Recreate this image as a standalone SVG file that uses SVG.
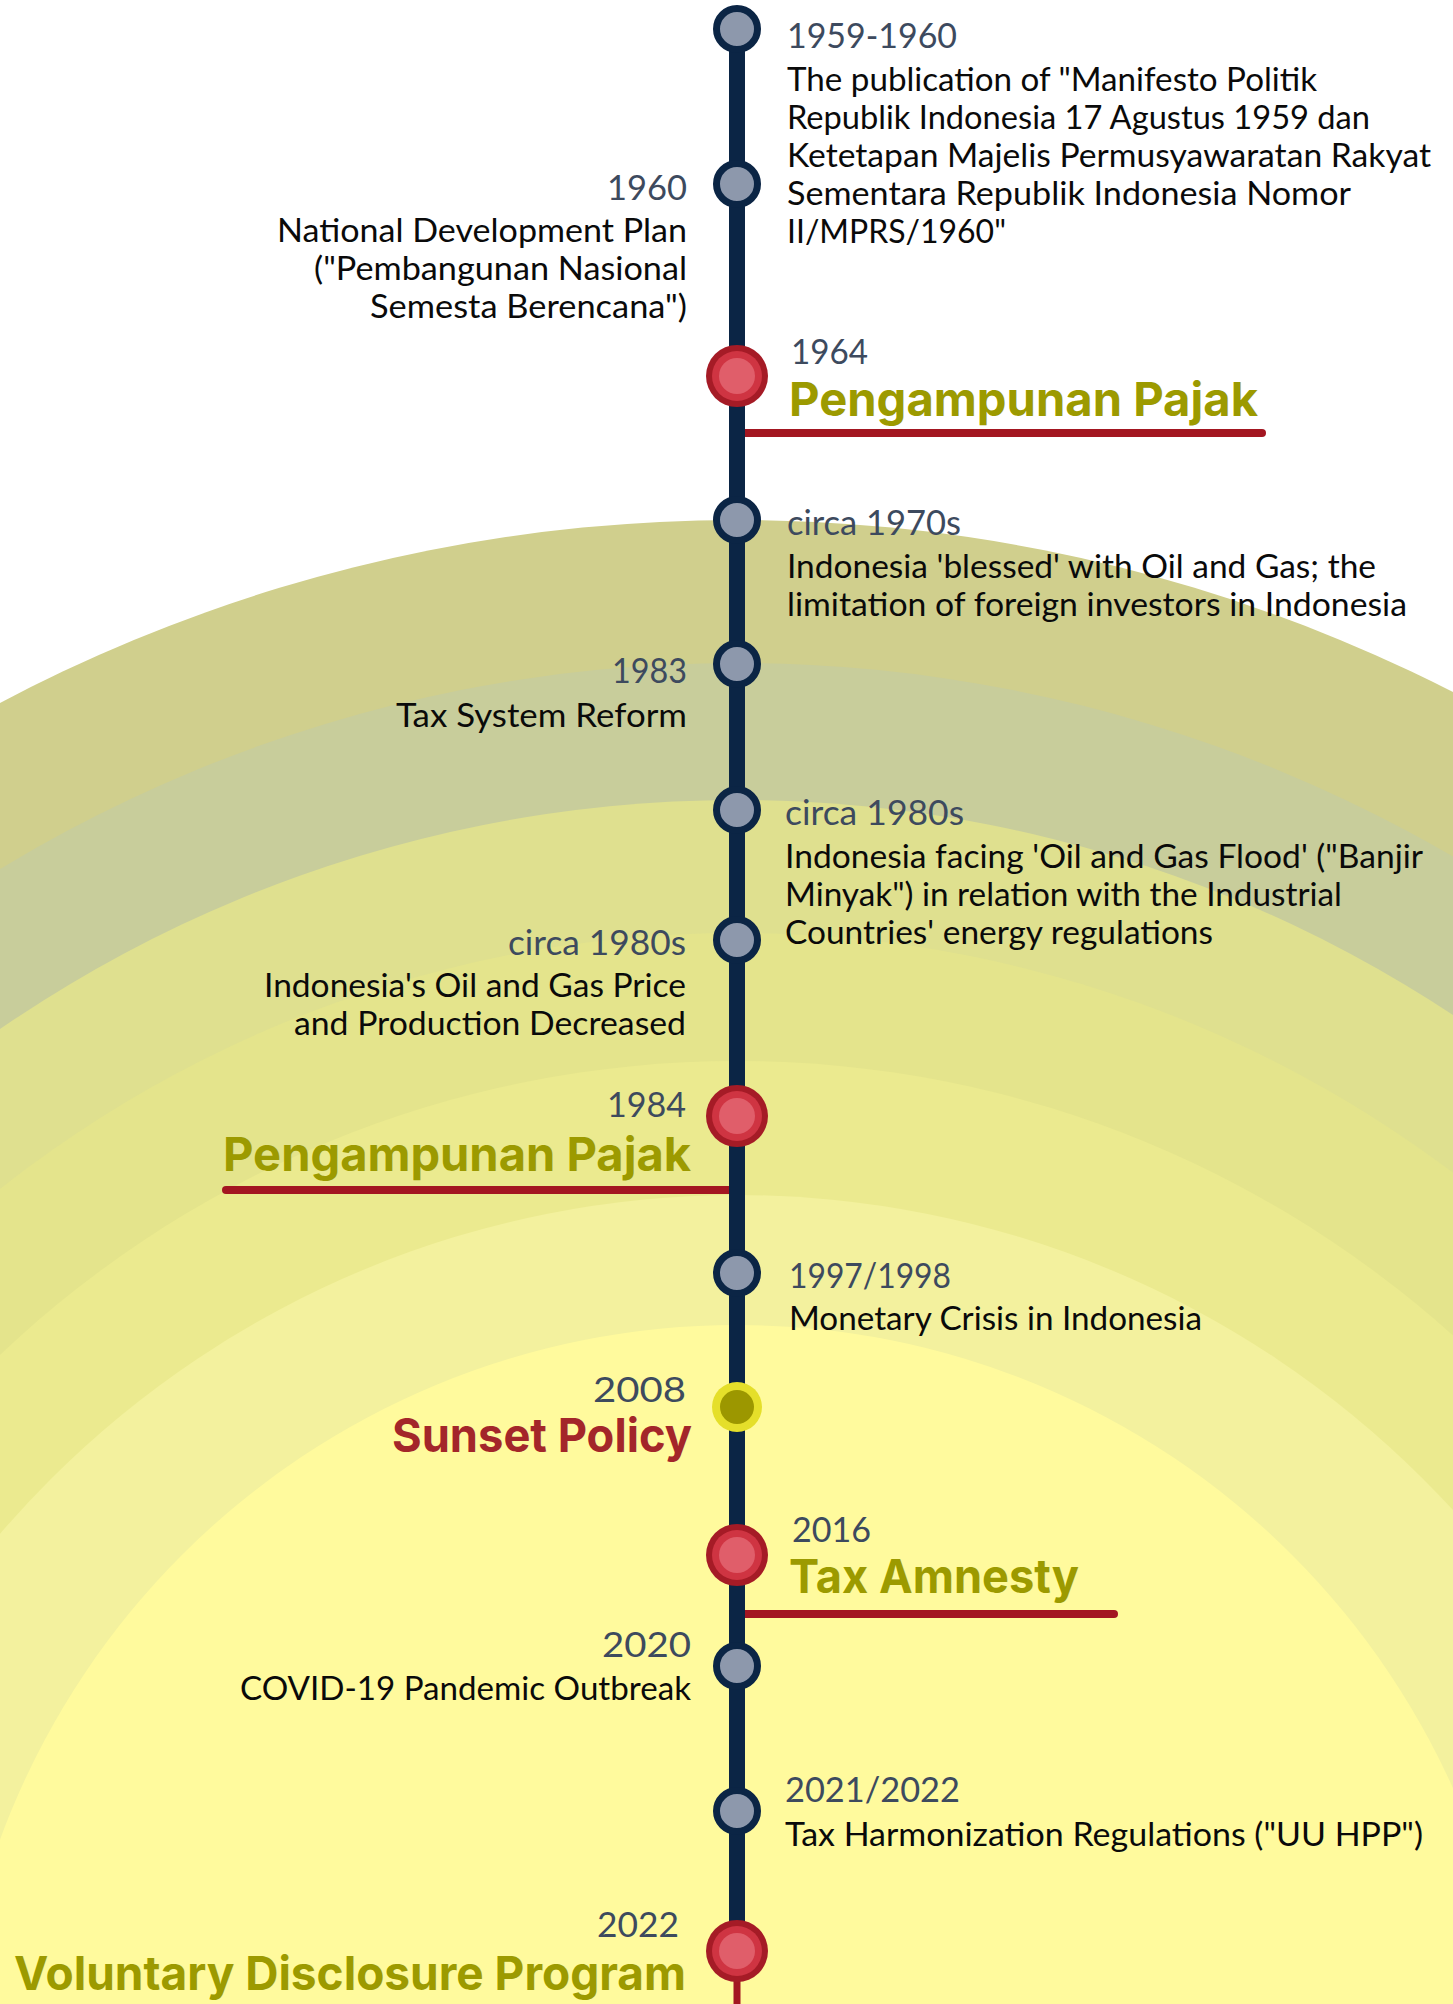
<svg xmlns="http://www.w3.org/2000/svg" width="1453" height="2004" viewBox="0 0 1453 2004">
<style>
.date{font-family:Lato,"Noto Sans",sans-serif;font-size:34.5px;fill:#3d4a5e}
.body{font-family:Lato,"Noto Sans",sans-serif;font-size:33.5px;fill:#0a0a0a}
.head{font-family:Inter,"Noto Sans",sans-serif;font-weight:700;font-size:47px;fill:#9c9a00}
.red{fill:#a3262a}
.end{text-anchor:end}
.ul{stroke:#a31621;stroke-width:8;stroke-linecap:round;fill:none}
</style>
<defs>
<g id="gray"><circle r="20.5" fill="#8d98ac" stroke="#0b2545" stroke-width="7"/></g>
<g id="redc"><circle r="31" fill="#a51b26"/><circle r="25" fill="#cf3442"/><circle r="18" fill="#e05e6a"/></g>
</defs>
<rect width="1453" height="2004" fill="#ffffff"/>
<g id="background">
<circle cx="737" cy="2096" r="1576" fill="#d0cf8d"/>
<circle cx="737" cy="2084" r="1421" fill="#c8cd9b"/>
<circle cx="737" cy="2100" r="1300" fill="#dfe08f"/>
<circle cx="737" cy="2122" r="1189" fill="#e4e48c"/>
<circle cx="737" cy="2132" r="1071" fill="#ebea8f"/>
<circle cx="737" cy="2166" r="971" fill="#f3f19e"/>
<circle cx="737" cy="2110" r="785" fill="#fffa9d"/>
</g>
<g id="connectors">
<path class="ul" d="M737 433H1262"/>
<path class="ul" d="M737 1190H226"/>
<path class="ul" d="M737 1614H1114"/>
<line x1="737" y1="29" x2="737" y2="1950" stroke="#0b2545" stroke-width="16"/>
<line x1="737" y1="1950" x2="737" y2="2004" stroke="#a31621" stroke-width="7"/>
</g>
<g id="n1959"><use href="#gray" x="737" y="29"/>
<text class="date" x="787" y="48" textLength="170" lengthAdjust="spacingAndGlyphs">1959-1960</text>
<text class="body" x="787" y="91" textLength="530" lengthAdjust="spacingAndGlyphs">The publication of "Manifesto Politik</text>
<text class="body" x="787" y="129" textLength="583" lengthAdjust="spacingAndGlyphs">Republik Indonesia 17 Agustus 1959 dan</text>
<text class="body" x="787" y="167" textLength="644" lengthAdjust="spacingAndGlyphs">Ketetapan Majelis Permusyawaratan Rakyat</text>
<text class="body" x="787" y="205" textLength="564" lengthAdjust="spacingAndGlyphs">Sementara Republik Indonesia Nomor</text>
<text class="body" x="787" y="243" textLength="219" lengthAdjust="spacingAndGlyphs">II/MPRS/1960"</text></g>
<g id="n1960"><use href="#gray" x="737" y="184"/>
<text class="date end" x="687" y="200" textLength="80" lengthAdjust="spacingAndGlyphs">1960</text>
<text class="body end" x="687" y="242" textLength="410" lengthAdjust="spacingAndGlyphs">National Development Plan</text>
<text class="body end" x="687" y="280" textLength="373" lengthAdjust="spacingAndGlyphs">("Pembangunan Nasional</text>
<text class="body end" x="687" y="318" textLength="317" lengthAdjust="spacingAndGlyphs">Semesta Berencana")</text></g>
<g id="n1964"><use href="#redc" x="737" y="376"/>
<text class="date" x="791" y="364" textLength="77" lengthAdjust="spacingAndGlyphs">1964</text>
<text class="head" x="789" y="416" textLength="469" lengthAdjust="spacingAndGlyphs">Pengampunan Pajak</text></g>
<g id="n1970"><use href="#gray" x="737" y="520"/>
<text class="date" x="787" y="535" textLength="174" lengthAdjust="spacingAndGlyphs">circa 1970s</text>
<text class="body" x="787" y="578" textLength="589" lengthAdjust="spacingAndGlyphs">Indonesia 'blessed' with Oil and Gas; the</text>
<text class="body" x="787" y="616" textLength="620" lengthAdjust="spacingAndGlyphs">limitation of foreign investors in Indonesia</text></g>
<g id="n1983"><use href="#gray" x="737" y="664"/>
<text class="date end" x="687" y="683" textLength="75" lengthAdjust="spacingAndGlyphs">1983</text>
<text class="body end" x="687" y="727" textLength="291" lengthAdjust="spacingAndGlyphs">Tax System Reform</text></g>
<g id="n1980a"><use href="#gray" x="737" y="810"/>
<text class="date" x="785" y="825" textLength="179" lengthAdjust="spacingAndGlyphs">circa 1980s</text>
<text class="body" x="785" y="868" textLength="638" lengthAdjust="spacingAndGlyphs">Indonesia facing 'Oil and Gas Flood' ("Banjir</text>
<text class="body" x="785" y="906" textLength="557" lengthAdjust="spacingAndGlyphs">Minyak") in relation with the Industrial</text>
<text class="body" x="785" y="944" textLength="428" lengthAdjust="spacingAndGlyphs">Countries' energy regulations</text></g>
<g id="n1980b"><use href="#gray" x="737" y="940"/>
<text class="date end" x="686" y="955" textLength="178" lengthAdjust="spacingAndGlyphs">circa 1980s</text>
<text class="body end" x="686" y="997" textLength="422" lengthAdjust="spacingAndGlyphs">Indonesia's Oil and Gas Price</text>
<text class="body end" x="686" y="1035" textLength="392" lengthAdjust="spacingAndGlyphs">and Production Decreased</text></g>
<g id="n1984"><use href="#redc" x="737" y="1116"/>
<text class="date end" x="686" y="1117" textLength="79" lengthAdjust="spacingAndGlyphs">1984</text>
<text class="head end" x="691" y="1171" textLength="468" lengthAdjust="spacingAndGlyphs">Pengampunan Pajak</text></g>
<g id="n1997"><use href="#gray" x="737" y="1273"/>
<text class="date" x="789" y="1288" textLength="162" lengthAdjust="spacingAndGlyphs">1997/1998</text>
<text class="body" x="789" y="1330" textLength="413" lengthAdjust="spacingAndGlyphs">Monetary Crisis in Indonesia</text></g>
<g id="n2008"><circle cx="737" cy="1407" r="25" fill="#e5df2a"/><circle cx="737" cy="1407" r="17" fill="#9c9700"/>
<text class="date end" x="686" y="1402" textLength="93" lengthAdjust="spacingAndGlyphs">2008</text>
<text class="head red end" x="692" y="1452" textLength="300" lengthAdjust="spacingAndGlyphs">Sunset Policy</text></g>
<g id="n2016"><use href="#redc" x="737" y="1555"/>
<text class="date" x="792" y="1542" textLength="79" lengthAdjust="spacingAndGlyphs">2016</text>
<text class="head" x="789" y="1593" textLength="290" lengthAdjust="spacingAndGlyphs">Tax Amnesty</text></g>
<g id="n2020"><use href="#gray" x="737" y="1666"/>
<text class="date end" x="691" y="1657" textLength="89" lengthAdjust="spacingAndGlyphs">2020</text>
<text class="body end" x="691" y="1700" textLength="451" lengthAdjust="spacingAndGlyphs">COVID-19 Pandemic Outbreak</text></g>
<g id="n2021"><use href="#gray" x="737" y="1811"/>
<text class="date" x="785" y="1802" textLength="175" lengthAdjust="spacingAndGlyphs">2021/2022</text>
<text class="body" x="785" y="1846" textLength="638" lengthAdjust="spacingAndGlyphs">Tax Harmonization Regulations ("UU HPP")</text></g>
<g id="n2022"><use href="#redc" x="737" y="1951"/>
<text class="date end" x="679" y="1937" textLength="82" lengthAdjust="spacingAndGlyphs">2022</text>
<text class="head end" x="686" y="1990" textLength="672" lengthAdjust="spacingAndGlyphs">Voluntary Disclosure Program</text></g>
</svg>
